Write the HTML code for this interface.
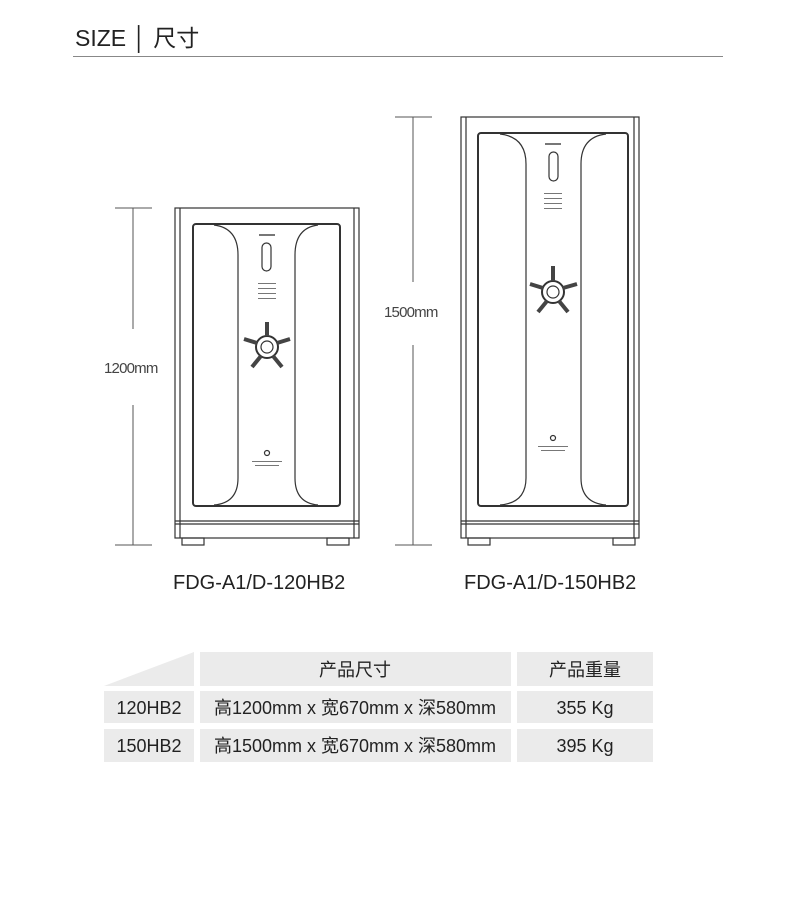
<!DOCTYPE html>
<html><head><meta charset="utf-8"><style>
body{margin:0;width:790px;height:906px;background:#fff;overflow:hidden;font-family:"Liberation Sans","Noto Sans CJK SC",sans-serif;}
.abs{position:absolute}
</style></head><body>
<div class="abs" style="left:75px;top:19px;font-size:23px;color:#222;letter-spacing:0">SIZE │ 尺寸</div>
<div class="abs" style="left:73px;top:56px;width:650px;height:1px;background:#888"></div>
<svg class="abs" style="left:0;top:0" width="790" height="906" viewBox="0 0 790 906">
<g stroke="#555" fill="none" stroke-width="1">
<line x1="115" y1="208" x2="152" y2="208"/><line x1="115" y1="545" x2="152" y2="545"/>
<line x1="133" y1="208" x2="133" y2="329"/><line x1="133" y1="405" x2="133" y2="545"/>
<line x1="395" y1="117" x2="432" y2="117"/><line x1="395" y1="545" x2="432" y2="545"/>
<line x1="413" y1="117" x2="413" y2="282"/><line x1="413" y1="345" x2="413" y2="545"/>
</g>
<g stroke="#333" fill="none" stroke-width="1.2">
<rect x="175" y="208" width="184" height="330"/>
<line x1="180" y1="208" x2="180" y2="538"/><line x1="354" y1="208" x2="354" y2="538"/>
<line x1="175" y1="521" x2="359" y2="521"/><line x1="175" y1="524" x2="359" y2="524"/>
<rect x="182" y="538" width="22" height="7"/><rect x="327" y="538" width="22" height="7"/>
<rect x="193" y="224" width="147" height="282" rx="3" stroke-width="2"/>
<path d="M214 225 Q238 228 238 255 L238 478 Q238 503 214 505"/>
<path d="M318 225 Q295 228 295 255 L295 478 Q295 503 318 505"/>
<rect x="262" y="243" width="9" height="28" rx="4.5"/>
<circle cx="267" cy="347" r="11" stroke-width="2"/><circle cx="267" cy="347" r="6"/>
<g stroke-width="4" stroke="#444"><line x1="267" y1="336" x2="267" y2="322"/><line x1="257" y1="343" x2="244" y2="339"/><line x1="277" y1="343" x2="290" y2="339"/><line x1="261" y1="356" x2="252" y2="367"/><line x1="273" y1="356" x2="282" y2="367"/></g>
<circle cx="267" cy="453" r="2.5"/>
<rect x="461" y="117" width="178" height="421"/>
<line x1="466" y1="117" x2="466" y2="538"/><line x1="634" y1="117" x2="634" y2="538"/>
<line x1="461" y1="521" x2="639" y2="521"/><line x1="461" y1="524" x2="639" y2="524"/>
<rect x="468" y="538" width="22" height="7"/><rect x="613" y="538" width="22" height="7"/>
<rect x="478" y="133" width="150" height="373" rx="3" stroke-width="2"/>
<path d="M500 134 Q526 137 526 164 L526 478 Q526 503 500 505"/>
<path d="M606 134 Q581 137 581 164 L581 478 Q581 503 606 505"/>
<rect x="549" y="152" width="9" height="29" rx="4.5"/>
<circle cx="553" cy="292" r="11" stroke-width="2"/><circle cx="553" cy="292" r="6"/>
<g stroke-width="4" stroke="#444"><line x1="553" y1="281" x2="553" y2="266"/><line x1="543" y1="288" x2="530" y2="284"/><line x1="563" y1="288" x2="577" y2="284"/><line x1="547" y1="301" x2="538" y2="312"/><line x1="559" y1="301" x2="568" y2="312"/></g>
<circle cx="553" cy="438" r="2.5"/>
</g>
<g fill="#777">
<rect x="259" y="234" width="16" height="2"/><rect x="545" y="143" width="16" height="2"/>
<rect x="258" y="283" width="18" height="1"/><rect x="258" y="288" width="18" height="1"/><rect x="258" y="293" width="18" height="1"/><rect x="258" y="298" width="18" height="1"/>
<rect x="544" y="193" width="18" height="1"/><rect x="544" y="198" width="18" height="1"/><rect x="544" y="203" width="18" height="1"/><rect x="544" y="208" width="18" height="1"/>
<rect x="252" y="461" width="30" height="1"/><rect x="255" y="465" width="24" height="1"/>
<rect x="538" y="446" width="30" height="1"/><rect x="541" y="450" width="24" height="1"/>
</g>
<text x="104" y="373" font-size="15" fill="#444" font-family="Liberation Sans" letter-spacing="-0.8">1200mm</text>
<text x="384" y="317" font-size="15" fill="#444" font-family="Liberation Sans" letter-spacing="-0.8">1500mm</text>
<text x="173" y="589" font-size="20" fill="#222" font-family="Liberation Sans">FDG-A1/D-120HB2</text>
<text x="464" y="589" font-size="20" fill="#222" font-family="Liberation Sans">FDG-A1/D-150HB2</text>
<g fill="#ebebeb">
<polygon points="104,686 194,652 194,686"/>
<rect x="200" y="652" width="311" height="34"/><rect x="517" y="652" width="136" height="34"/>
<rect x="104" y="691" width="90" height="32"/><rect x="200" y="691" width="311" height="32"/><rect x="517" y="691" width="136" height="32"/>
<rect x="104" y="729" width="90" height="33"/><rect x="200" y="729" width="311" height="33"/><rect x="517" y="729" width="136" height="33"/>
</g>
<g font-size="18" fill="#222" text-anchor="middle" font-family="Liberation Sans, Noto Sans CJK SC, sans-serif">
<text x="355" y="676">产品尺寸</text><text x="585" y="676">产品重量</text>
<text x="149" y="714">120HB2</text><text x="355" y="714">高1200mm x 宽670mm x 深580mm</text><text x="585" y="714">355 Kg</text>
<text x="149" y="752">150HB2</text><text x="355" y="752">高1500mm x 宽670mm x 深580mm</text><text x="585" y="752">395 Kg</text>
</g>
</svg>
</body></html>
